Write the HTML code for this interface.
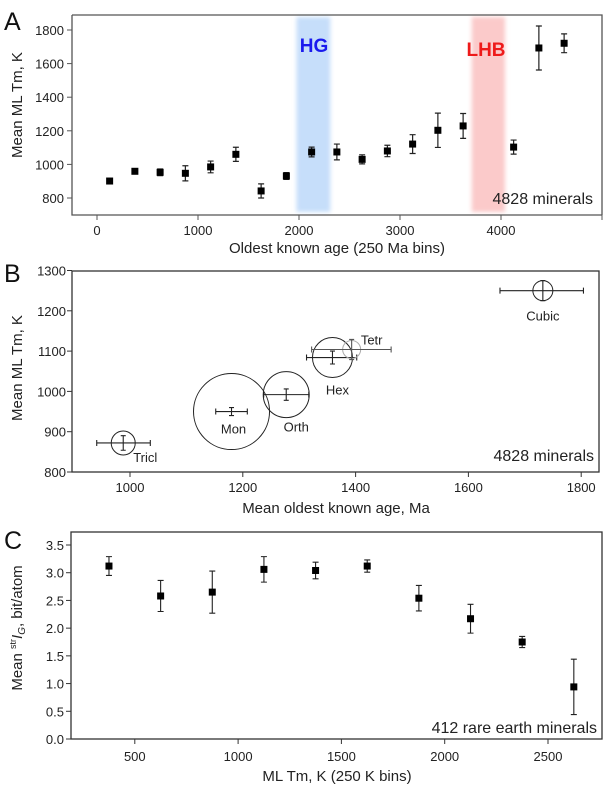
<!DOCTYPE html>
<html><head><meta charset="utf-8"><style>
body{margin:0;background:#fff;}
svg{display:block;font-family:"Liberation Sans",Arial,sans-serif;}
</style></head><body>
<svg id="fig" width="611" height="790" viewBox="0 0 611 790">
<defs>
<filter id="blur" x="-50%" y="-5%" width="200%" height="110%"><feGaussianBlur stdDeviation="2"/></filter>
</defs>
</svg>
<script>
// ---------- Panel A data ----------
const aAges = [125,375,625,875,1125,1375,1625,1875,2125,2375,2625,2875,3125,3375,3625,4125,4375,4625];
const aTm = [901,959,953,947,985,1060,842,931,1074,1074,1030,1080,1121,1203,1229,1103,1693,1721];
const aErr = [8,10,20,45,35,42,42,20,29,47,27,34,56,102,74,42,131,56];
const aXTicks = [0,1000,2000,3000,4000,5000];
const aXLabels = ["0","1000","2000","3000","4000",""];
const aYTicks = [800,1000,1200,1400,1600,1800];
// ---------- Panel B data ----------
const bNames = ["Tricl","Mon","Orth","Hex","Tetr","Cubic"];
const bAge = [988,1180,1277,1359,1393,1732];
const bTm = [872,950,992,1084,1104,1250];
const bAgeLo = [941,1152,1237,1313,1322,1656];
const bAgeHi = [1036,1208,1317,1402,1463,1804];
const bTmErr = [18,10,14,16,25,25];
const bCounts = [258,2585,947,716,145,179];
const bXTicks = [1000,1200,1400,1600,1800];
const bYTicks = [800,900,1000,1100,1200,1300];
// ---------- Panel C data ----------
const cTm = [375,625,875,1125,1375,1625,1875,2125,2375,2625];
const cIG = [3.12,2.58,2.65,3.06,3.04,3.12,2.54,2.17,1.75,0.94];
const cErr = [0.17,0.28,0.38,0.23,0.15,0.11,0.23,0.26,0.10,0.50];
const cXTicks = [500,1000,1500,2000,2500];
const cYTicks = [0,0.5,1,1.5,2,2.5,3,3.5];

const svg = document.getElementById('fig');
const NS = 'http://www.w3.org/2000/svg';
function mk(tag, attrs, parent){const e=document.createElementNS(NS,tag);for(const k in attrs)e.setAttribute(k,attrs[k]);(parent||svg).appendChild(e);return e;}
function txt(s, attrs, parent){const e=mk('text',attrs,parent);e.textContent=s;return e;}
const AX='#555', TX='#222';

// ===== Panel A =====
const ax = v => 97 + v*0.101;
const ay = v => 198 - (v-800)*0.168;
const gA = mk('g',{});


const hg = mk('rect',{x:ax(1975),y:17,width:ax(2310)-ax(1975),height:195,fill:'#c6defa',filter:'url(#blur)'},gA);


const lhb = mk('rect',{x:ax(3710),y:17,width:ax(4040)-ax(3710),height:195,fill:'#fbcaca',filter:'url(#blur)'},gA);


const aFrame = mk('path',{d:'M72,15 H602 V215 M72,15 V215 H602',fill:'none',stroke:AX,'stroke-width':1.3},gA);


aXTicks.forEach((t,i)=>{
  mk('line',{x1:ax(t),x2:ax(t),y1:215,y2:220,stroke:AX},gA);
  const l=txt(aXLabels[i],{x:ax(t),y:235,'text-anchor':'middle','font-size':13,fill:TX},gA);
  
  
});
aYTicks.forEach(t=>{
  mk('line',{x1:67,x2:72,y1:ay(t),y2:ay(t),stroke:AX},gA);
  const l=txt(String(t),{x:64,y:ay(t)+5,'text-anchor':'end','font-size':13,fill:TX},gA);
  
  
});
aAges.forEach((a,i)=>{
  const x=ax(a), y=ay(aTm[i]), e=ay(aTm[i]+aErr[i]), e2=ay(aTm[i]-aErr[i]);
  const eb=mk('path',{d:`M${x},${e} V${e2} M${x-3},${e} H${x+3} M${x-3},${e2} H${x+3}`,stroke:'#222','stroke-width':1.2,fill:'none'},gA);
  
  
  const p=mk('rect',{x:x-3.5,y:y-3.5,width:7,height:7,fill:'#000'},gA);
  
  
});
let t;
t=txt('HG',{x:314,y:52,'text-anchor':'middle','font-size':19,'font-weight':'bold',fill:'#1a1aee'},gA);

t=txt('LHB',{x:486,y:56,'text-anchor':'middle','font-size':19,'font-weight':'bold',fill:'#ee1a1a'},gA);

t=txt('4828 minerals',{x:593,y:204,'text-anchor':'end','font-size':16,fill:TX},gA);

t=txt('Oldest known age (250 Ma bins)',{x:337,y:253,'text-anchor':'middle','font-size':15,fill:TX},gA);

t=txt('Mean ML Tm, K',{x:0,y:0,transform:'translate(22,105) rotate(-90)','text-anchor':'middle','font-size':15,fill:TX},gA);

t=txt('A',{x:4,y:30,'font-size':25,fill:'#111'},gA);


// ===== Panel B =====
const bx = v => 130 + (v-1000)*0.564;
const by = v => 472 - (v-800)*0.403;
const gB = mk('g',{});


const bFrame=mk('rect',{x:72,y:271,width:527,height:201,fill:'none',stroke:'#333','stroke-width':1.3},gB);


bXTicks.forEach(v=>{
  mk('line',{x1:bx(v),x2:bx(v),y1:472,y2:477,stroke:'#333'},gB);
  const l=txt(String(v),{x:bx(v),y:492,'text-anchor':'middle','font-size':13,fill:TX},gB);
  
  
});
bYTicks.forEach(v=>{
  mk('line',{x1:67,x2:72,y1:by(v),y2:by(v),stroke:'#333'},gB);
  const l=txt(String(v),{x:66,y:by(v)+5,'text-anchor':'end','font-size':13,fill:TX},gB);
  
  
});
const labOff = [[22,19],[2,22],[10,37],[5,37],[20,-5],[0,30]];
bNames.forEach((n,i)=>{
  const x=bx(bAge[i]), y=by(bTm[i]), r=Math.sqrt(bCounts[i]*0.5588);
  const light = n==='Tetr';
  const c=mk('circle',{cx:x,cy:y,r:r,fill:'none',stroke:light?'#aaa':'#222','stroke-width':1},gB);
  
  
  const x1=bx(bAgeLo[i]), x2=bx(bAgeHi[i]), y1=by(bTm[i]+bTmErr[i]), y2=by(bTm[i]-bTmErr[i]);
  const eb=mk('path',{d:`M${x1},${y} H${x2} M${x1},${y-3} V${y+3} M${x2},${y-3} V${y+3} M${x},${y1} V${y2} M${x-2.5},${y1} H${x+2.5} M${x-2.5},${y2} H${x+2.5}`,stroke:light?'#555':'#222','stroke-width':1.1,fill:'none'},gB);
  
  
  const l=txt(n,{x:x+labOff[i][0],y:y+labOff[i][1],'text-anchor':'middle','font-size':13,fill:TX},gB);
  
  
});
t=txt('4828 minerals',{x:594,y:461,'text-anchor':'end','font-size':16,fill:TX},gB);

t=txt('Mean oldest known age, Ma',{x:336,y:513,'text-anchor':'middle','font-size':15,fill:TX},gB);

t=txt('Mean ML Tm, K',{x:0,y:0,transform:'translate(22,368) rotate(-90)','text-anchor':'middle','font-size':15,fill:TX},gB);

t=txt('B',{x:4,y:282,'font-size':25,fill:'#111'},gB);


// ===== Panel C =====
const cx = v => 134.8 + (v-500)*0.2066;
const cy = v => 739 - v*55.43;
const gC = mk('g',{});


const cFrame=mk('rect',{x:71,y:532,width:531,height:207,fill:'none',stroke:'#333','stroke-width':1.3},gC);


cXTicks.forEach(v=>{
  mk('line',{x1:cx(v),x2:cx(v),y1:739,y2:744,stroke:'#333'},gC);
  const l=txt(String(v),{x:cx(v),y:761,'text-anchor':'middle','font-size':13,fill:TX},gC);
  
  
});
cYTicks.forEach(v=>{
  mk('line',{x1:66,x2:71,y1:cy(v),y2:cy(v),stroke:'#333'},gC);
  const l=txt(v.toFixed(1),{x:64,y:cy(v)+5,'text-anchor':'end','font-size':13,fill:TX},gC);
  
  
});
cTm.forEach((v,i)=>{
  const x=cx(v), y=cy(cIG[i]), e1=cy(cIG[i]+cErr[i]), e2=cy(cIG[i]-cErr[i]);
  const eb=mk('path',{d:`M${x},${e1} V${e2} M${x-3},${e1} H${x+3} M${x-3},${e2} H${x+3}`,stroke:'#222','stroke-width':1.1,fill:'none'},gC);
  
  
  const p=mk('rect',{x:x-3.5,y:y-3.5,width:7,height:7,fill:'#000'},gC);
  
  
});
t=txt('412 rare earth minerals',{x:597,y:733,'text-anchor':'end','font-size':16,fill:TX},gC);

t=txt('ML Tm, K (250 K bins)',{x:337,y:781,'text-anchor':'middle','font-size':15,fill:TX},gC);

const yt=mk('text',{transform:'translate(22,628) rotate(-90)','text-anchor':'middle','font-size':15,fill:TX},gC);


yt.innerHTML='Mean <tspan font-size="9" dy="-6">str</tspan><tspan font-style="italic" dy="6">I</tspan><tspan font-style="italic" font-size="10" dy="3">G</tspan><tspan dy="-3">,  bit/atom</tspan>';
t=txt('C',{x:4,y:549,'font-size':25,fill:'#111'},gC);

</script>
</body></html>
